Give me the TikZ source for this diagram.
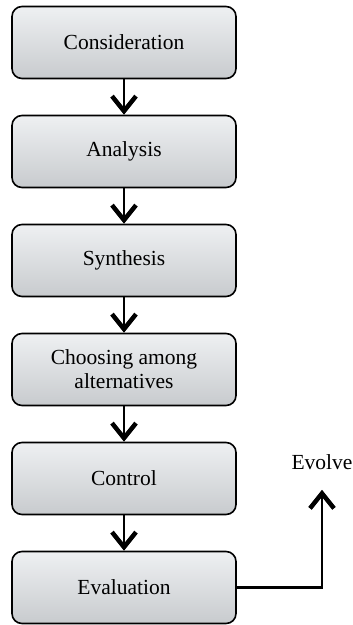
\documentclass[tikz,border=0pt]{standalone}
\usepackage{fontspec}
\setmainfont{Liberation Serif}
\usepackage{tikz}
\usetikzlibrary{arrows.meta}
\definecolor{stagetop}{RGB}{238,240,242}
\definecolor{stagebot}{RGB}{200,203,206}

\begin{document}
\begin{tikzpicture}[x=1pt, y=-1pt,
	stage/.style={draw, line width=1.6pt, rounded corners=10pt, top color=stagetop, bottom color=stagebot,
		minimum width=224pt, minimum height=72pt, align=center, font=\fontsize{21.5}{24}\selectfont},
	flow/.style={line width=2.6pt, -{Straight Barb[length=15pt, width=24pt, line width=4.5pt]}}]
	\useasboundingbox (0,0) rectangle (353,625);
	\foreach \i/\txt in {1/Consideration, 2/Analysis, 3/Synthesis, 4/{Choosing among\\alternatives}, 5/Control, 6/Evaluation}{
		\node[stage] (s\i) at (124, {42.5+109*(\i-1)}) {\txt};
	}
	\foreach \i [evaluate=\i as \j using int(\i+1)] in {1,...,5}{
		\draw[flow] (s\i) -- (s\j);
	}
	\node[inner sep=2pt, font=\fontsize{21.5}{24}\selectfont] (evolve) at (322,462) {Evolve};
	\draw[flow, line width=2.2pt, shorten >=18pt] (s6.east) -| (evolve.south);
	\end{tikzpicture}
\end{document}
